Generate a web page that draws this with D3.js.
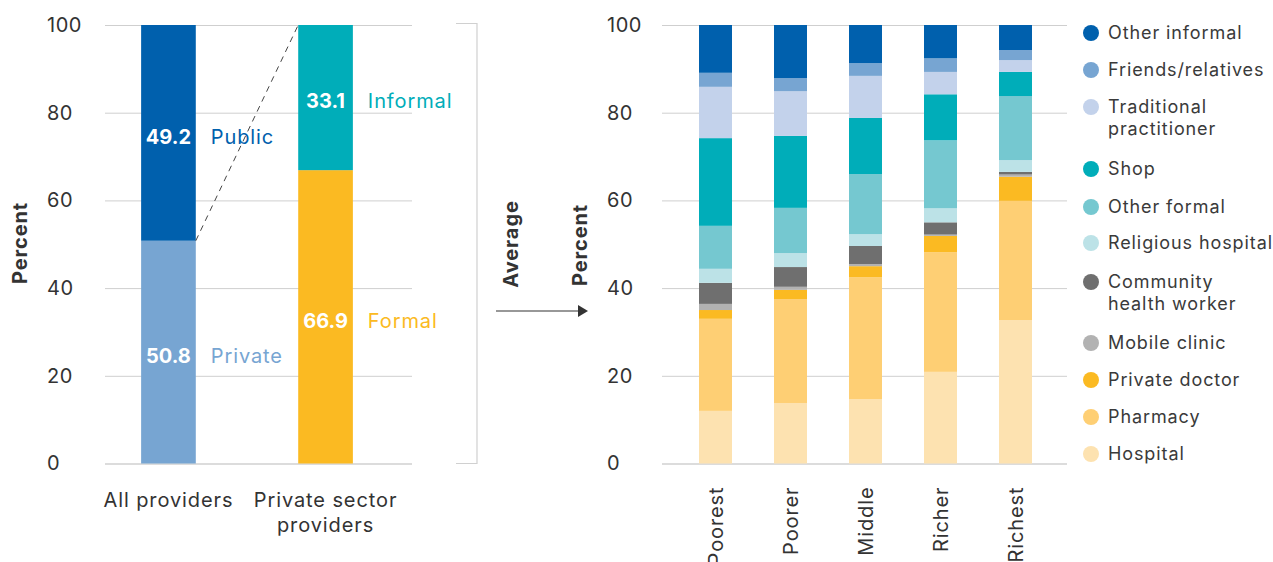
<!DOCTYPE html>
<html>
<head>
<meta charset="utf-8">
<script src="https://cdn.jsdelivr.net/npm/d3@7"></script>
<style>
  body { margin: 0; background: #fff; }
  text { font-family: Inter, "Open Sans", sans-serif; fill: #333; }
  .wide { letter-spacing: 0.9px; }
</style>
</head>
<body>
<div id="chart"></div>
<script>
// left panel data
var leftCats = ["All providers", "Private sector providers"];
var leftLabels = [["All providers"], ["Private sector", "providers"]];
var lowerVals = [50.8, 66.9];   // Private / Formal
var upperVals = [49.2, 33.1];   // Public / Informal
var lowerNames = ["Private", "Formal"];
var upperNames = ["Public", "Informal"];

// right panel data, quintiles
var quintiles = ["Poorest", "Poorer", "Middle", "Richer", "Richest"];
var hospital      = [12.0, 13.8, 14.7, 20.9, 32.7];
var pharmacy      = [21.0, 23.7, 27.8, 27.3, 27.2];
var privateDoctor = [2.0, 2.1, 2.5, 3.7, 5.5];
var mobileClinic  = [1.4, 0.7, 0.5, 0.3, 0.5];
var chw           = [4.8, 4.5, 4.1, 2.8, 0.6];
var religious     = [3.2, 3.2, 2.7, 3.2, 2.7];
var otherFormal   = [9.8, 10.3, 13.7, 15.5, 14.6];
var shop          = [20.0, 16.4, 12.8, 10.5, 5.5];
var traditional   = [11.7, 10.2, 9.6, 5.1, 2.7];
var friends       = [3.2, 3.0, 2.9, 3.1, 2.3];
var otherInformal = [10.9, 12.1, 8.7, 7.6, 5.7];

var yTicks = [0, 20, 40, 60, 80, 100];

var series = [
  {key: "Hospital", vals: hospital, color: "#fde2b0"},
  {key: "Pharmacy", vals: pharmacy, color: "#fecf74"},
  {key: "Private doctor", vals: privateDoctor, color: "#fbba22"},
  {key: "Mobile clinic", vals: mobileClinic, color: "#b2b2b2"},
  {key: "Community health worker", vals: chw, color: "#6f6f6f", lines: ["Community", "health worker"]},
  {key: "Religious hospital", vals: religious, color: "#bce2e7"},
  {key: "Other formal", vals: otherFormal, color: "#75c8d0"},
  {key: "Shop", vals: shop, color: "#00adb9"},
  {key: "Traditional practitioner", vals: traditional, color: "#c3d2eb", lines: ["Traditional", "practitioner"]},
  {key: "Friends/relatives", vals: friends, color: "#77a5d2"},
  {key: "Other informal", vals: otherInformal, color: "#0060ad"}
];

var W = 1273, H = 562;
var svg = d3.select("#chart").append("svg").attr("width", W).attr("height", H);

var y = d3.scaleLinear().domain([0, 100]).range([463.5, 25]);

// y axis with gridlines
function drawYAxis(x0, x1, labelX) {
  var g = svg.append("g").attr("transform", `translate(${x0},0)`)
    .call(d3.axisLeft(y).tickValues(yTicks).tickSize(-(x1 - x0)).tickFormat(d3.format("d")));
  g.select(".domain").remove();
  g.selectAll(".tick line").attr("stroke", "#cfcfcf");
  g.selectAll(".tick").filter(d => d === 0).select("line").attr("stroke", "#dcdcdc").attr("stroke-width", 2);
  g.selectAll(".tick text").attr("x", labelX - x0).attr("text-anchor", "start")
    .style("font-size", "20px").style("letter-spacing", "0.5px").attr("fill", "#333");
}

// ---------- left panel ----------
drawYAxis(105, 412, 47);

var xL = d3.scaleBand().domain(leftCats).range([94, 400]).paddingInner(0.652).paddingOuter(0.3);

var lowerColors = ["#77a5d2", "#fbba22"];
var upperColors = ["#0060ad", "#00adb9"];

leftCats.forEach(function(c, i) {
  var x = xL(c), bw = xL.bandwidth();
  svg.append("rect").attr("x", x).attr("width", bw)
    .attr("y", y(lowerVals[i])).attr("height", y(0) - y(lowerVals[i])).attr("fill", lowerColors[i]);
  svg.append("rect").attr("x", x).attr("width", bw)
    .attr("y", y(100)).attr("height", y(lowerVals[i]) - y(100)).attr("fill", upperColors[i]);

  var midLo = y(lowerVals[i] / 2) + 3.5, midUp = y(lowerVals[i] + upperVals[i] / 2) + 3.5;
  svg.append("text").attr("x", x + bw / 2).attr("y", midLo).attr("dy", "0.36em")
    .attr("text-anchor", "middle").style("font-size", "20px").style("font-weight", 700)
    .style("fill", "#fff").text(lowerVals[i].toFixed(1));
  svg.append("text").attr("x", x + bw / 2).attr("y", midUp).attr("dy", "0.36em")
    .attr("text-anchor", "middle").style("font-size", "20px").style("font-weight", 700)
    .style("fill", "#fff").text(upperVals[i].toFixed(1));
  svg.append("text").attr("class", "wide").attr("x", x + bw + 15).attr("y", midLo).attr("dy", "0.36em")
    .style("font-size", "20px").style("fill", lowerColors[i]).text(lowerNames[i]);
  svg.append("text").attr("class", "wide").attr("x", x + bw + 15).attr("y", midUp).attr("dy", "0.36em")
    .style("font-size", "20px").style("fill", upperColors[i]).text(upperNames[i]);

  var t = svg.append("text").attr("class", "wide").attr("text-anchor", "middle").style("font-size", "20px");
  leftLabels[i].forEach(function(line, j) {
    t.append("tspan").attr("x", x + bw / 2).attr("y", 507 + j * 25).text(line);
  });
});

// dashed connector
svg.append("line")
  .attr("x1", xL(leftCats[0]) + xL.bandwidth()).attr("y1", y(lowerVals[0]))
  .attr("x2", xL(leftCats[1])).attr("y2", y(100))
  .attr("stroke", "#444").attr("stroke-width", 1).attr("stroke-dasharray", "6,5");

// bracket
svg.append("path").attr("d", `M456,${y(100) - 1.5}H477V${y(0)}H456`)
  .attr("fill", "none").attr("stroke", "#d0d0d0").attr("stroke-width", 1.2);

svg.append("text").attr("class", "wide").attr("transform", "translate(27,243) rotate(-90)")
  .attr("text-anchor", "middle").style("font-size", "20px").style("font-weight", 700).text("Percent");

// arrow + Average
svg.append("line").attr("x1", 496).attr("x2", 580).attr("y1", 311).attr("y2", 311)
  .attr("stroke", "#333").attr("stroke-width", 1.2);
svg.append("path").attr("d", "M578,305L588,311L578,317Z").attr("fill", "#333");
svg.append("text").attr("class", "wide").attr("transform", "translate(518,244) rotate(-90)")
  .attr("text-anchor", "middle").style("font-size", "20px").style("font-weight", 700).text("Average");
svg.append("text").attr("class", "wide").attr("transform", "translate(587,245) rotate(-90)")
  .attr("text-anchor", "middle").style("font-size", "20px").style("font-weight", 700).text("Percent");

// ---------- right panel ----------
drawYAxis(662, 1067, 607);

var xR = d3.scaleBand().domain(quintiles).range([661.5, 1069.5]).paddingInner(0.56).paddingOuter(0.5);

var rows = quintiles.map(function(q, i) {
  var r = {q: q};
  series.forEach(s => r[s.key] = s.vals[i]);
  return r;
});
var stacked = d3.stack().keys(series.map(s => s.key))(rows);

svg.append("g").selectAll("g").data(stacked).join("g")
  .attr("fill", (d, i) => series[i].color)
  .selectAll("rect").data(d => d).join("rect")
  .attr("x", d => xR(d.data.q)).attr("width", xR.bandwidth())
  .attr("y", d => y(d[1])).attr("height", d => y(d[0]) - y(d[1]));

var xAxisR = svg.append("g").attr("transform", `translate(0,${y(0)})`)
  .call(d3.axisBottom(xR).tickSize(0));
xAxisR.select(".domain").remove();
xAxisR.selectAll(".tick text").attr("class", "wide").attr("transform", "rotate(-90)")
  .attr("text-anchor", "end").attr("x", -23).attr("y", 0).attr("dy", "0.36em")
  .style("font-size", "20px").attr("fill", "#333");

// legend
var legendY = [33, 70, 107, 169, 207, 243, 282, 343, 380, 417, 454];
var leg = svg.append("g");
series.slice().reverse().forEach(function(s, i) {
  var g = leg.append("g").attr("transform", `translate(1091,${legendY[i]})`);
  g.append("circle").attr("r", 8).attr("fill", s.color);
  var t = g.append("text").attr("class", "wide").style("font-size", "18px").style("fill", "#3a3a3a");
  (s.lines || [s.key]).forEach(function(line, j) {
    t.append("tspan").attr("x", 17).attr("y", j * 22).attr("dy", "0.36em").text(line);
  });
});
</script>
</body>
</html>
